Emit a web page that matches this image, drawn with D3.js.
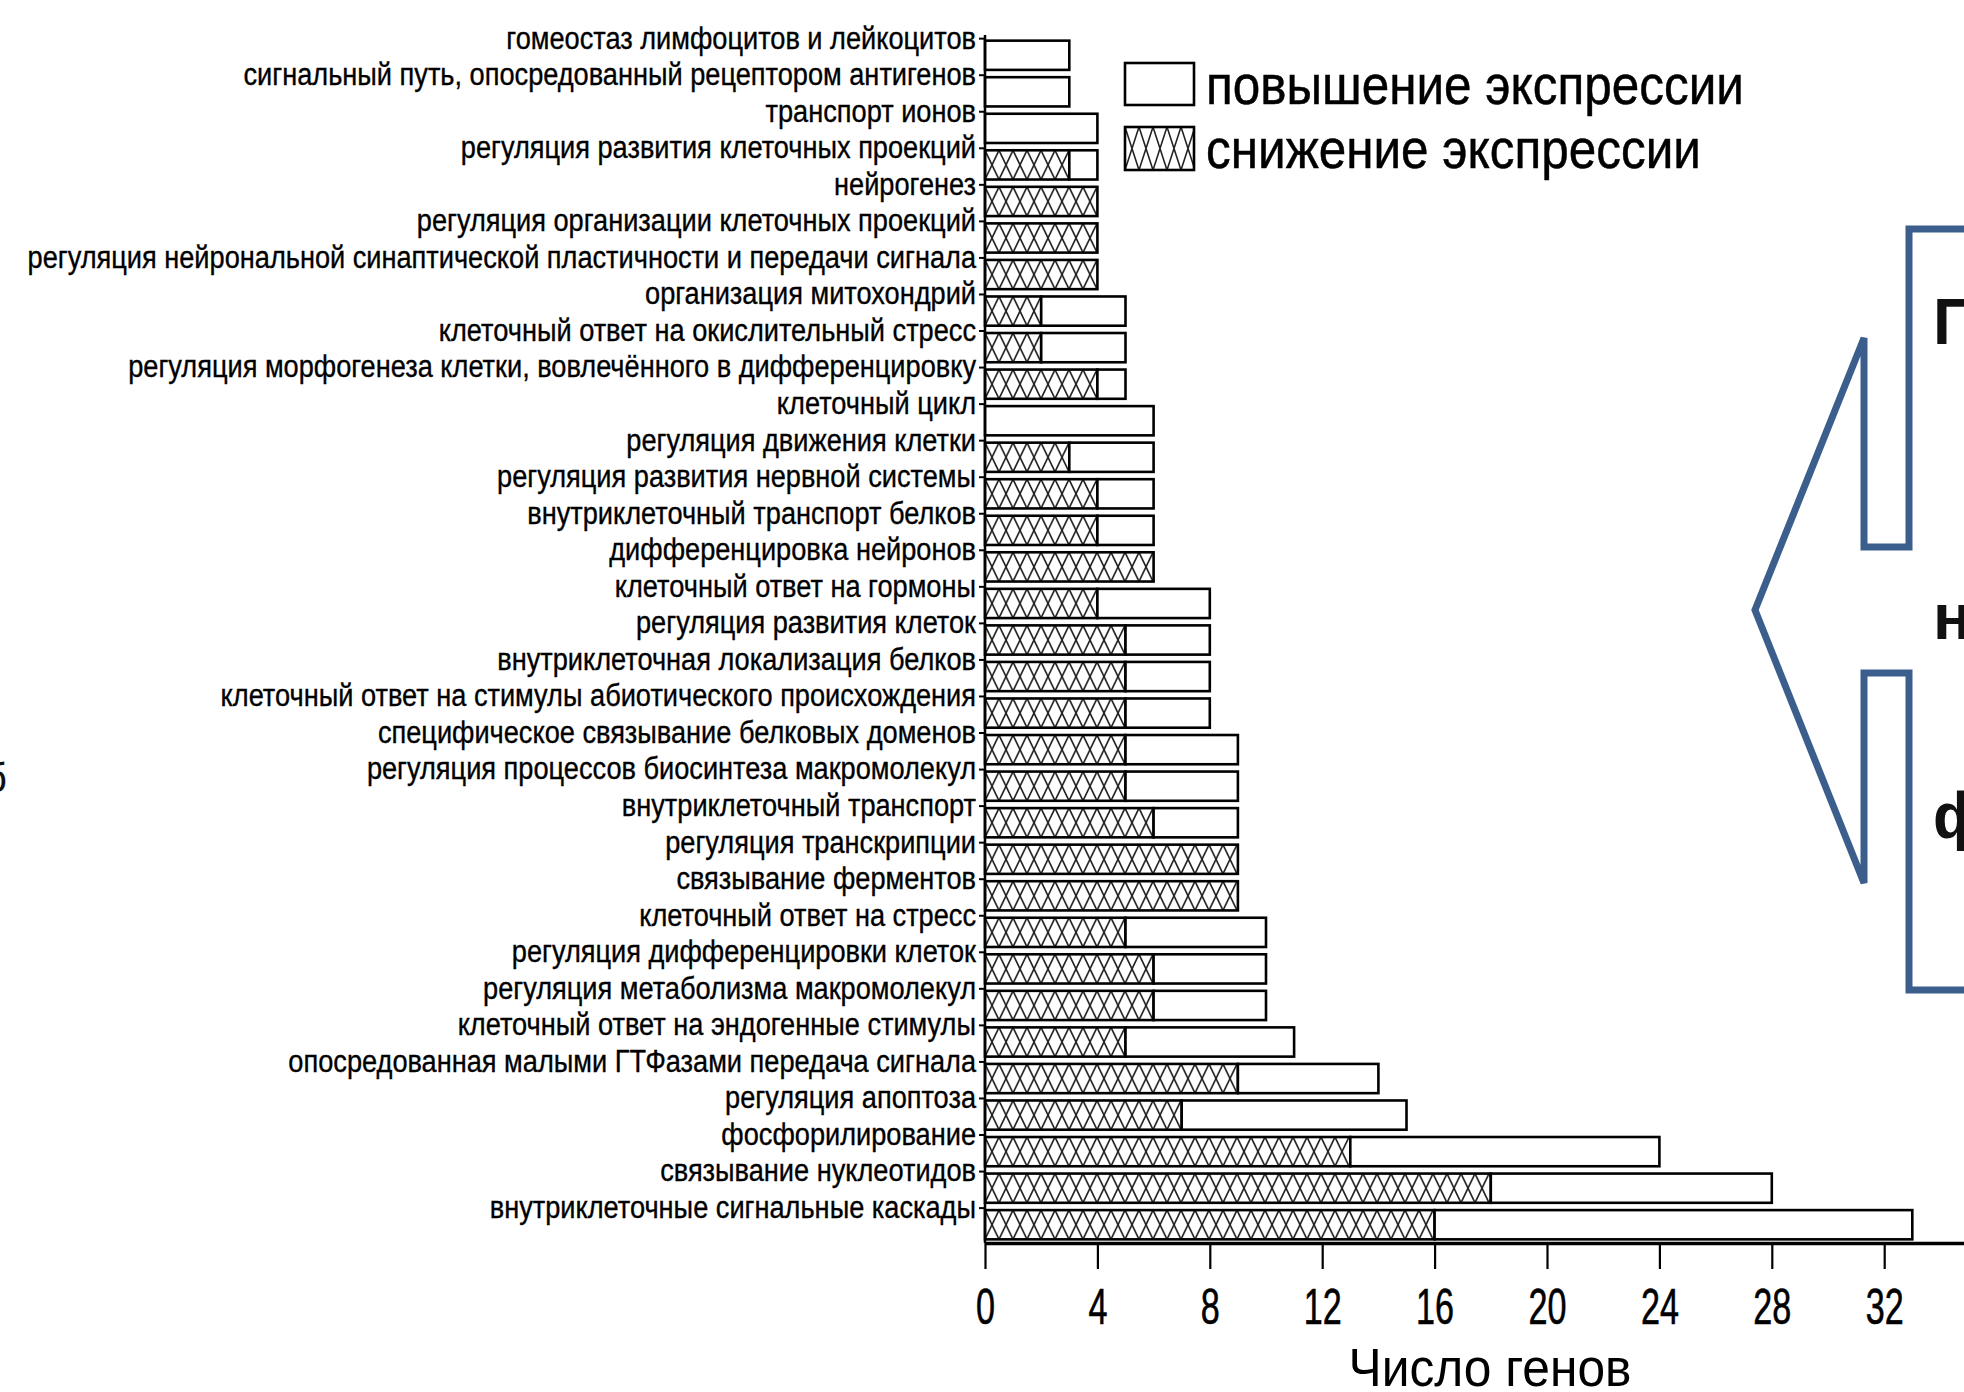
<!DOCTYPE html>
<html>
<head>
<meta charset="utf-8">
<script src="https://cdn.jsdelivr.net/npm/d3@7"></script>
<style>
  html, body { margin: 0; padding: 0; background: #fff; }
  svg { display: block; }
</style>
</head>
<body>
<div id="chart"></div>
<script>
const categories = [
  'гомеостаз лимфоцитов и лейкоцитов',
  'сигнальный путь, опосредованный рецептором антигенов',
  'транспорт ионов',
  'регуляция развития клеточных проекций',
  'нейрогенез',
  'регуляция организации клеточных проекций',
  'регуляция нейрональной синаптической пластичности и передачи сигнала',
  'организация митохондрий',
  'клеточный ответ на окислительный стресс',
  'регуляция морфогенеза клетки, вовлечённого в дифференцировку',
  'клеточный цикл',
  'регуляция движения клетки',
  'регуляция развития нервной системы',
  'внутриклеточный транспорт белков',
  'дифференцировка нейронов',
  'клеточный ответ на гормоны',
  'регуляция развития клеток',
  'внутриклеточная локализация белков',
  'клеточный ответ на стимулы абиотического происхождения',
  'специфическое связывание белковых доменов',
  'регуляция процессов биосинтеза макромолекул',
  'внутриклеточный транспорт',
  'регуляция транскрипции',
  'связывание ферментов',
  'клеточный ответ на стресс',
  'регуляция дифференцировки клеток',
  'регуляция метаболизма макромолекул',
  'клеточный ответ на эндогенные стимулы',
  'опосредованная малыми ГТФазами передача сигнала',
  'регуляция апоптоза',
  'фосфорилирование',
  'связывание нуклеотидов',
  'внутриклеточные сигнальные каскады'
];

// снижение экспрессии (hatched part)
const downregulated = [0, 0, 0, 3, 4, 4, 4, 2, 2, 4, 0, 3, 4, 4, 6, 4, 5, 5, 5, 5, 5, 6, 9, 9, 5, 6, 6, 5, 9, 7, 13, 18, 16];
// повышение экспрессии (white part)
const upregulated = [3, 3, 4, 1, 0, 0, 0, 3, 3, 1, 6, 3, 2, 2, 0, 4, 3, 3, 3, 4, 4, 3, 0, 0, 5, 4, 4, 6, 5, 8, 11, 10, 17];

const xTicks = [0, 4, 8, 12, 16, 20, 24, 28, 32];
const xMax = 36;
const legendLabels = ['повышение экспрессии', 'снижение экспрессии'];
const xTitle = 'Число генов';
const sideLetters = ['П', 'н', 'ф'];

const width = 1964, height = 1392;
const font = '"Liberation Sans Narrow", "Arial Narrow", "Liberation Sans", Arial, sans-serif';

const svg = d3.select('#chart').append('svg')
  .attr('width', width)
  .attr('height', height)
  .style('font-family', font);

const x = d3.scaleLinear().domain([0, xMax]).range([985, 985 + xMax * 28.1]);
const y = d3.scaleBand().domain(categories).range([37, 1243]).paddingInner(0.2).paddingOuter(0.1);

// squeeze text horizontally so it matches the condensed look of the original
function squeeze(sel, k, shift) {
  sel.each(function () {
    const t = d3.select(this);
    const x0 = shift != null ? shift : +t.attr('x') || 0;
    t.attr('x', 0).attr('transform', `translate(${x0},0) scale(${k},1)`);
  });
}

const defs = svg.append('defs');
function hatch(id, h, x0) {
  const p = defs.append('pattern')
    .attr('id', id)
    .attr('patternUnits', 'userSpaceOnUse')
    .attr('x', x0).attr('y', 0)
    .attr('width', 14).attr('height', h);
  p.append('rect').attr('width', 14).attr('height', h).attr('fill', '#fff');
  p.append('path')
    .attr('d', `M0,0L14,${h}M14,0L0,${h}`)
    .attr('stroke', '#222').attr('stroke-width', 1.6).attr('fill', 'none');
}
hatch('hatch-bar', y.bandwidth(), x(0));
hatch('hatch-legend', 43, 0);

// stacked bars
const rows = categories.map((c, i) => ({ category: c, down: downregulated[i], up: upregulated[i] }));
const series = d3.stack().keys(['down', 'up'])(rows);

svg.append('g')
  .selectAll('g')
  .data(series)
  .join('g')
  .attr('fill', s => s.key === 'down' ? 'url(#hatch-bar)' : '#fff')
  .selectAll('rect')
  .data(s => s.filter(d => d[1] > d[0]))
  .join('rect')
  .attr('transform', d => `translate(0,${y(d.data.category)})`)
  .attr('x', d => x(d[0]))
  .attr('y', 0)
  .attr('width', d => x(d[1]) - x(d[0]))
  .attr('height', y.bandwidth())
  .attr('stroke', '#000')
  .attr('stroke-width', 2.6);

// x axis
const xAxis = svg.append('g')
  .attr('transform', `translate(0,${y.range()[1]})`)
  .call(d3.axisBottom(x).tickValues(xTicks).tickSize(26).tickPadding(20).tickSizeOuter(0));
xAxis.select('.domain').attr('stroke', '#000').attr('stroke-width', 3.5);
xAxis.selectAll('.tick line').attr('stroke', '#000').attr('stroke-width', 2.2);
const xLabels = xAxis.selectAll('.tick text')
  .attr('font-size', 50)
  .attr('font-family', font)
  .attr('fill', '#000')
  .attr('stroke', '#000')
  .attr('stroke-width', 0.6);
const w32 = xLabels.filter(d => d === 32).node().getComputedTextLength();
squeeze(xLabels, 38 / w32, 0);

// y axis: ticks and labels sit at the top edge of each bar
const yAxis = svg.append('g')
  .attr('transform', `translate(${x(0)},${-y.bandwidth() / 2 - 2})`)
  .call(d3.axisLeft(y).tickSize(6).tickPadding(3));
yAxis.select('.domain').remove();
yAxis.selectAll('.tick line').attr('stroke', '#000').attr('stroke-width', 2);
const yLabels = yAxis.selectAll('.tick text')
  .attr('font-size', 31)
  .attr('font-family', font)
  .attr('fill', '#000')
  .attr('stroke', '#000')
  .attr('stroke-width', 0.35);
let maxW = 0;
yLabels.each(function () { maxW = Math.max(maxW, this.getComputedTextLength()); });
squeeze(yLabels, 949 / maxW);

svg.append('line')
  .attr('x1', x(0)).attr('x2', x(0))
  .attr('y1', 35).attr('y2', y.range()[1])
  .attr('stroke', '#000').attr('stroke-width', 2.5);

// axis title
const title = svg.append('text')
  .attr('x', 1490).attr('y', 1386)
  .attr('text-anchor', 'middle')
  .attr('font-size', 54)
  .attr('fill', '#000')
  .text(xTitle);
squeeze(title, 283 / title.node().getComputedTextLength(), 1490);

// legend
const legend = svg.append('g').attr('transform', 'translate(1125,63)');
const legendItems = legend.selectAll('g')
  .data(legendLabels)
  .join('g')
  .attr('transform', (d, i) => `translate(0,${i * 64})`);
legendItems.append('rect')
  .attr('width', 69)
  .attr('height', (d, i) => i === 0 ? 42 : 43)
  .attr('fill', (d, i) => i === 0 ? '#fff' : 'url(#hatch-legend)')
  .attr('stroke', '#000')
  .attr('stroke-width', 2.6);
const legendText = legendItems.append('text')
  .attr('x', 81)
  .attr('y', 41)
  .attr('font-size', 56)
  .attr('fill', '#000')
  .attr('stroke', '#000')
  .attr('stroke-width', 0.5)
  .text(d => d);
const lw = legendText.node().getComputedTextLength();
squeeze(legendText, 538 / lw, 81);

// callout arrow on the right (partly cut off by the slide edge)
svg.append('path')
  .attr('d', 'M2000,229L1909,229L1909,547L1864,547L1864,338L1755,610L1864,883L1864,673L1909,673L1909,990L2000,990')
  .attr('fill', 'none')
  .attr('stroke', '#3b5e8c')
  .attr('stroke-width', 7);

svg.append('g')
  .selectAll('text')
  .data(sideLetters)
  .join('text')
  .attr('x', 1933)
  .attr('y', (d, i) => [344, 639, 838][i])
  .attr('font-family', '"Liberation Sans", Arial, sans-serif')
  .attr('font-weight', 'bold')
  .attr('font-size', 64)
  .attr('fill', '#111')
  .text(d => d);

// fragment of a rotated caption at the left edge
svg.append('text')
  .attr('x', 7).attr('y', 792)
  .attr('text-anchor', 'end')
  .attr('font-size', 40)
  .attr('fill', '#111')
  .text('б');
</script>
</body>
</html>
